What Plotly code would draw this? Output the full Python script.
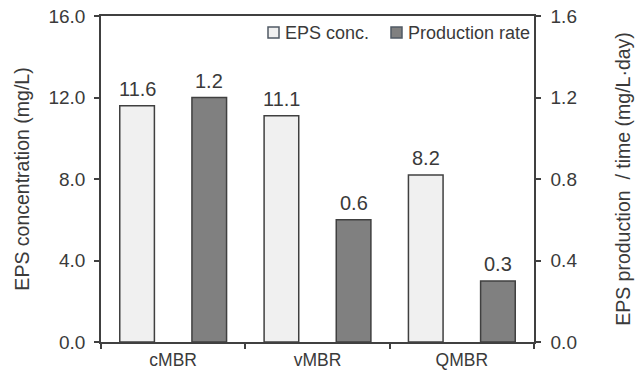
import plotly.graph_objects as go

reactors = ["cMBR", "vMBR", "QMBR"]
eps_conc = [11.6, 11.1, 8.2]          # mg/L
production_rate = [1.2, 0.6, 0.3]     # mg/L·day
series_names = ["EPS conc.", "Production rate"]

FONT = "Liberation Sans, Arial, sans-serif"
TXT = "#3a3a3a"
EDGE = "#404040"
FILLS = ["#f0f0f0", "#808080"]

# plot-area geometry in pixels (for the hand-placed legend)
W, H = 638, 371
ML, MR, MT, MB = 101, 104, 16, 29
PW, PH = W - ML - MR, H - MT - MB


def px_x(x):
    return (x - ML) / PW


def px_y(y):
    return 1 - (y - MT) / PH


fig = go.Figure()
fig.add_trace(go.Bar(
    x=reactors, y=eps_conc, name=series_names[0],
    width=0.24, offset=-0.37,
    marker=dict(color=FILLS[0], line=dict(color=EDGE, width=1.5)),
    yaxis="y", showlegend=False,
))
fig.add_trace(go.Bar(
    x=reactors, y=production_rate, name=series_names[1],
    width=0.24, offset=0.13,
    marker=dict(color=FILLS[1], line=dict(color=EDGE, width=1.5)),
    yaxis="y2", showlegend=False,
))

# value labels above each bar
annotations = []
for i, r in enumerate(reactors):
    annotations.append(dict(
        x=i - 0.25, xref="x", y=eps_conc[i], yref="y",
        text=f"{eps_conc[i]:.1f}", showarrow=False,
        yanchor="bottom", yshift=4,
        font=dict(size=20, color=TXT, family=FONT),
    ))
    annotations.append(dict(
        x=i + 0.25, xref="x", y=production_rate[i], yref="y2",
        text=f"{production_rate[i]:.1f}", showarrow=False,
        yanchor="bottom", yshift=4,
        font=dict(size=20, color=TXT, family=FONT),
    ))

# legend: two swatches with labels, top-right inside the frame
legend_items = [(268, series_names[0]), (391, series_names[1])]
shapes = []
for (x0, label), fill in zip(legend_items, FILLS):
    shapes.append(dict(
        type="rect", xref="paper", yref="paper",
        x0=px_x(x0), x1=px_x(x0 + 11), y0=px_y(38), y1=px_y(27),
        fillcolor=fill, line=dict(color="#505a64", width=1.5),
    ))
    annotations.append(dict(
        x=px_x(x0 + 15), xref="paper", y=px_y(33), yref="paper",
        text=label, showarrow=False, xanchor="left", yanchor="middle",
        font=dict(size=18, color=TXT, family=FONT),
    ))

axis_common = dict(
    showline=True, linecolor=EDGE, linewidth=1.5,
    ticks="outside", ticklen=5, tickcolor=EDGE, tickwidth=1.5,
    showgrid=False, zeroline=False, automargin=False,
    tickfont=dict(size=19, color=TXT, family=FONT),
)

fig.update_layout(
    width=W, height=H,
    margin=dict(l=ML, r=MR, t=MT, b=MB, autoexpand=False),
    paper_bgcolor="white", plot_bgcolor="white",
    font=dict(family=FONT, color=TXT),
    barmode="overlay",
    showlegend=False,
    annotations=annotations,
    shapes=shapes,
    xaxis=dict(
        **{**axis_common, "tickfont": dict(size=17.5, color=TXT, family=FONT)},
        mirror=True, tickson="boundaries",
        range=[-0.5, 2.5], ticklabelstandoff=1,
    ),
    yaxis=dict(
        **axis_common, range=[0, 16], dtick=4, tickformat=".1f",
        ticklabelstandoff=5,
        title=dict(text="EPS concentration (mg/L)",
                   font=dict(size=19.5, color=TXT), standoff=14),
    ),
    yaxis2=dict(
        **axis_common, overlaying="y", side="right",
        range=[0, 1.6], dtick=0.4, tickformat=".1f",
        ticklabelstandoff=6,
        title=dict(text="EPS production  / time (mg/L·day)",
                   font=dict(size=19.5, color=TXT), standoff=40),
    ),
)

fig.write_html("out.html")
